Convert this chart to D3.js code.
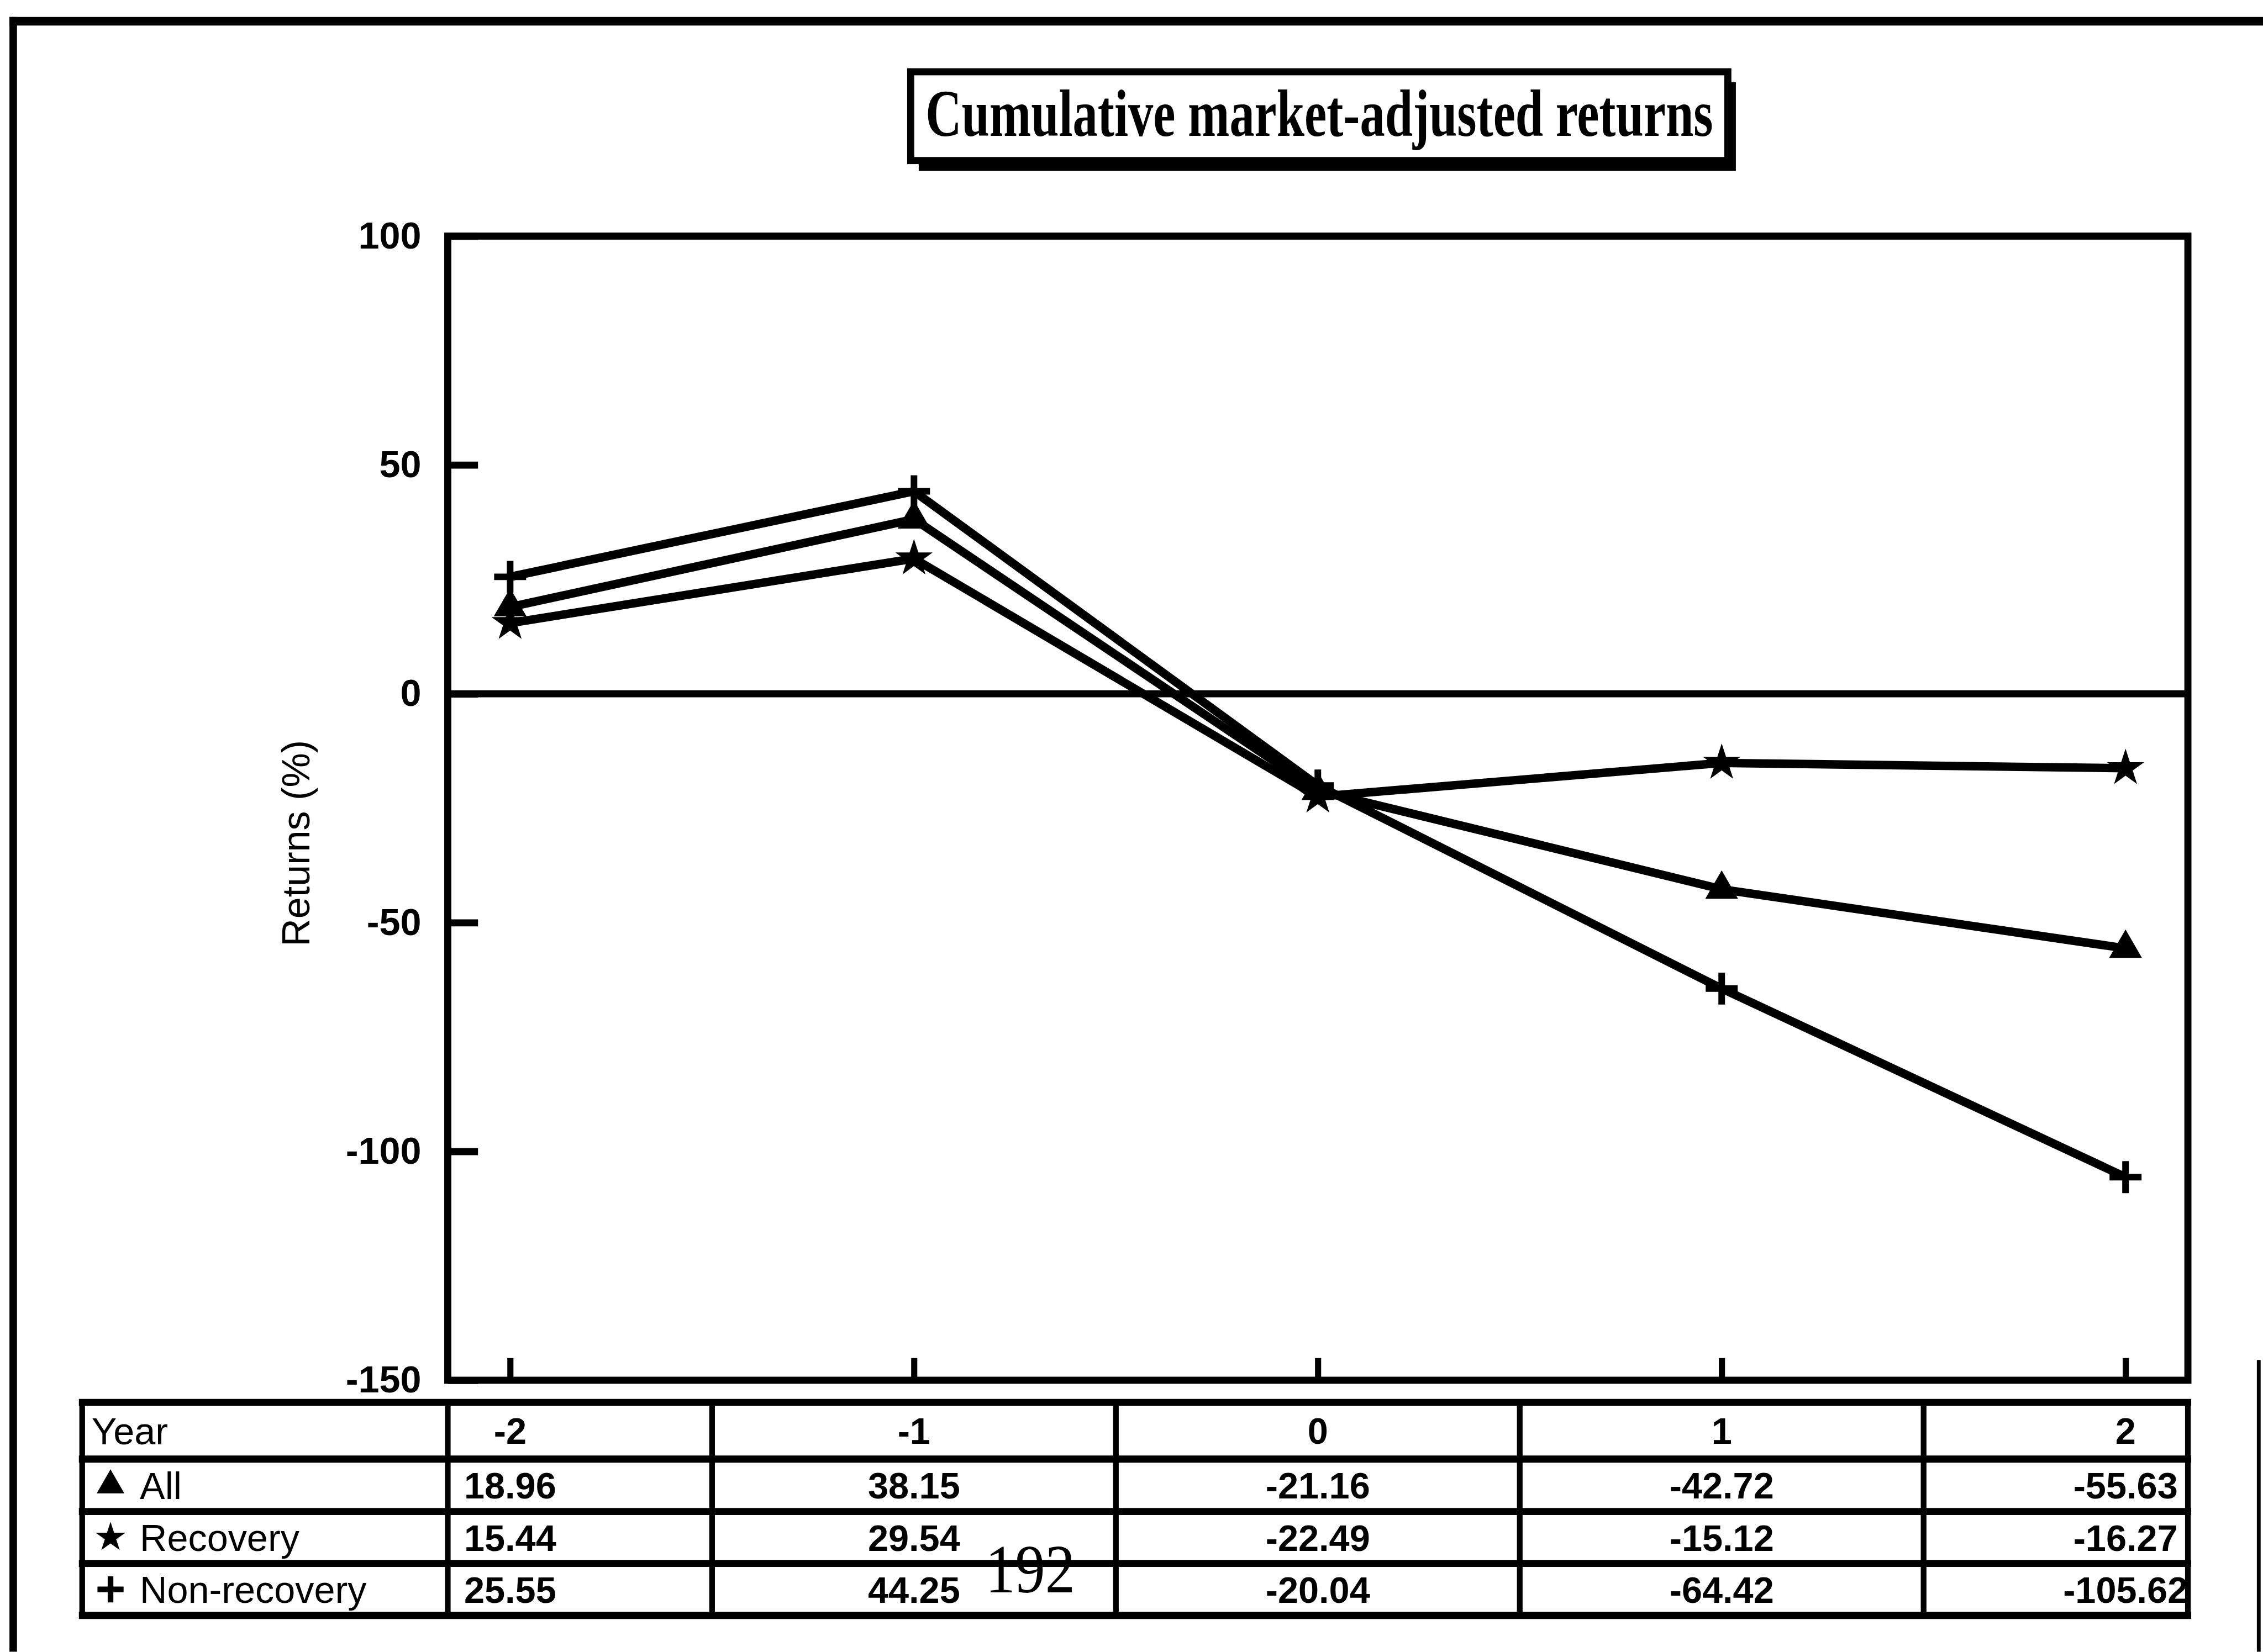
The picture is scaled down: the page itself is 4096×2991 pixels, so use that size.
<!DOCTYPE html>
<html><head><meta charset="utf-8">
<script src="https://cdn.jsdelivr.net/npm/d3@7"></script>
<style>html,body{margin:0;padding:0;background:#fff;} svg{display:block}</style>
</head><body><svg id="chart" width="4096" height="2991"></svg>
<script>
// ---- data ----
const years = [-2, -1, 0, 1, 2];
const seriesNames = ["All", "Recovery", "Non-recovery"];
const allValues = [18.96, 38.15, -21.16, -42.72, -55.63];
const recoveryValues = [15.44, 29.54, -22.49, -15.12, -16.27];
const nonRecoveryValues = [25.55, 44.25, -20.04, -64.42, -105.62];
const yTicks = [100, 50, 0, -50, -100, -150];
const titleText = "Cumulative market-adjusted returns";
const yLabel = "Returns (%)";
const tableHeader = "Year";
const pageNumber = "192";

// ---- layout (reference pixels, scaled to window) ----
const S = 4096 / 4791;
const L = 948, R = 4632, T = 500, B = 2923;
const SANS = "'Liberation Sans', Arial, sans-serif";
const SERIF = "'Liberation Serif', 'Times New Roman', serif";

const svg = d3.select("#chart");
svg.append("rect").attr("width", 4096).attr("height", 2991).attr("fill", "#fff");
const g = svg.append("g").attr("transform", `scale(${S})`);

const x = d3.scalePoint().domain(years).range([L, R]).padding(0.1544);
const y = d3.scaleLinear().domain([-150, 100]).range([B, T]);

// outer page frame
g.append("line").attr("x1", 20).attr("x2", 4791).attr("y1", 45).attr("y2", 45)
  .attr("stroke", "#000").attr("stroke-width", 18);
g.append("line").attr("x1", 28).attr("x2", 28).attr("y1", 36).attr("y2", 3498)
  .attr("stroke", "#000").attr("stroke-width", 16);
g.append("line").attr("x1", 4782).attr("x2", 4782).attr("y1", 2880).attr("y2", 3498)
  .attr("stroke", "#000").attr("stroke-width", 8);

// title box with shadow
const tb = {x: 1928, y: 152, w: 1730, h: 188};
g.append("rect").attr("x", tb.x + 17).attr("y", tb.y + 22).attr("width", tb.w).attr("height", tb.h)
  .attr("fill", "#000");
g.append("rect").attr("x", tb.x).attr("y", tb.y).attr("width", tb.w).attr("height", tb.h)
  .attr("fill", "#fff").attr("stroke", "#000").attr("stroke-width", 15);
g.append("text").attr("x", tb.x + tb.w / 2).attr("y", 288)
  .attr("text-anchor", "middle").attr("font-family", SERIF).attr("font-size", 140)
  .attr("font-weight", "bold")
  .attr("textLength", 1667).attr("lengthAdjust", "spacingAndGlyphs")
  .text(titleText);

// y axis label
g.append("text").attr("transform", "translate(655,1786) rotate(-90)")
  .attr("text-anchor", "middle").attr("font-family", SANS).attr("font-size", 82)
  .text(yLabel);

// y axis (inward ticks)
const yAxis = g.append("g").attr("transform", `translate(${L},0)`)
  .call(d3.axisLeft(y).tickValues(yTicks).tickSizeInner(-64).tickSizeOuter(0)
    .tickPadding(56).tickFormat(d => String(d)));
yAxis.select(".domain").remove();
yAxis.selectAll(".tick line").attr("stroke", "#000").attr("stroke-width", 15);
yAxis.selectAll(".tick text").attr("font-family", SANS).attr("font-size", 80)
  .attr("font-weight", "bold").attr("fill", "#000");

// x axis (inward ticks, no labels)
const xAxis = g.append("g").attr("transform", `translate(0,${B})`)
  .call(d3.axisBottom(x).tickSizeInner(-47).tickSizeOuter(0).tickFormat(""));
xAxis.select(".domain").remove();
xAxis.selectAll(".tick line").attr("stroke", "#000").attr("stroke-width", 13);

// zero line
g.append("line").attr("x1", L).attr("x2", R).attr("y1", y(0)).attr("y2", y(0))
  .attr("stroke", "#000").attr("stroke-width", 15);

// plot frame
g.append("rect").attr("x", L).attr("y", T).attr("width", R - L).attr("height", B - T)
  .attr("fill", "none").attr("stroke", "#000").attr("stroke-width", 15);

// series
const series = [
  {name: seriesNames[0], values: allValues, sym: d3.symbolTriangle, size: 1600, fill: true},
  {name: seriesNames[1], values: recoveryValues, sym: d3.symbolStar, size: 1250, fill: true},
  {name: seriesNames[2], values: nonRecoveryValues, sym: d3.symbolPlus || d3.symbolCross, size: 1500, fill: false}
];
const line = d3.line().x((d, i) => x(years[i])).y(d => y(d));
series.forEach(s => {
  g.append("path").attr("d", line(s.values)).attr("fill", "none")
    .attr("stroke", "#000").attr("stroke-width", 18).attr("stroke-linejoin", "round");
});
series.forEach(s => {
  g.selectAll(null).data(s.values).join("path")
    .attr("transform", (d, i) => `translate(${x(years[i])},${y(d)})`)
    .attr("d", d3.symbol(s.sym, s.size))
    .attr("fill", s.fill ? "#000" : "none")
    .attr("stroke", "#000").attr("stroke-width", s.fill ? 5 : 14);
});

// data table
const rowsY = [2970, 3090, 3201, 3311, 3421];
const tL = 174;
const colEdges = [tL, L];
for (let i = 0; i < years.length - 1; i++) colEdges.push((x(years[i]) + x(years[i + 1])) / 2);
colEdges.push(R);
rowsY.forEach(ry => {
  g.append("line").attr("x1", tL - 7).attr("x2", R + 7).attr("y1", ry).attr("y2", ry)
    .attr("stroke", "#000").attr("stroke-width", 15);
});
colEdges.forEach(cx => {
  g.append("line").attr("x1", cx).attr("x2", cx).attr("y1", rowsY[0]).attr("y2", rowsY[rowsY.length - 1])
    .attr("stroke", "#000").attr("stroke-width", 12);
});
const rowMid = i => (rowsY[i] + rowsY[i + 1]) / 2;

// header row
g.append("text").attr("x", 194).attr("y", rowMid(0)).attr("dy", "0.36em")
  .attr("font-family", SANS).attr("font-size", 80).text(tableHeader);
g.selectAll(null).data(years).join("text")
  .attr("x", d => x(d)).attr("y", rowMid(0)).attr("dy", "0.36em")
  .attr("text-anchor", "middle").attr("font-family", SANS).attr("font-size", 78)
  .attr("font-weight", "bold").text(d => String(d));

// series rows
const legendSizes = [1150, 800, 1000];
series.forEach((s, k) => {
  const my = rowMid(k + 1);
  g.append("path").attr("transform", `translate(234,${my})`)
    .attr("d", d3.symbol(s.sym, legendSizes[k]))
    .attr("fill", s.fill ? "#000" : "none").attr("stroke", "#000")
    .attr("stroke-width", s.fill ? 4 : 12);
  g.append("text").attr("x", 296).attr("y", my).attr("dy", "0.36em")
    .attr("font-family", SANS).attr("font-size", 80).text(s.name);
  g.selectAll(null).data(s.values).join("text")
    .attr("x", (d, i) => x(years[i])).attr("y", my).attr("dy", "0.36em")
    .attr("text-anchor", "middle").attr("font-family", SANS).attr("font-size", 78)
    .attr("font-weight", "bold").text(d => d.toFixed(2));
});

// page number from the scanned page
g.append("text").attr("x", 2181).attr("y", 3372).attr("text-anchor", "middle")
  .attr("font-family", SERIF).attr("font-size", 145)
  .attr("textLength", 190).attr("lengthAdjust", "spacingAndGlyphs").text(pageNumber);
</script>
</body></html>
